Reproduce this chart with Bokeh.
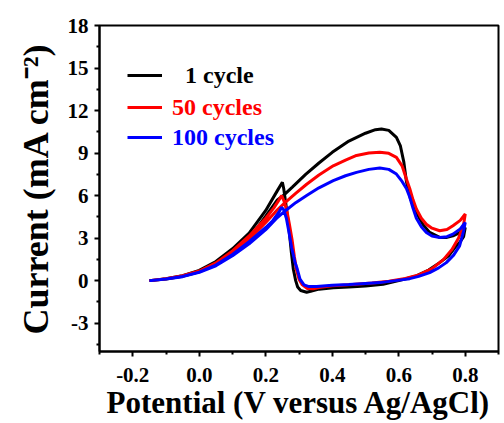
from bokeh.plotting import figure
from bokeh.models import Range1d, FixedTicker, PrintfTickFormatter, Legend, LegendItem
from bokeh.embed import file_html
from bokeh.resources import INLINE

# ---- data ----
x_ticks = [-0.2, 0.0, 0.2, 0.4, 0.6, 0.8]
x_minor = [-0.3, -0.1, 0.1, 0.3, 0.5, 0.7, 0.9]
y_ticks = [-3, 0, 3, 6, 9, 12, 15, 18]
y_minor = [-4.5, -1.5, 1.5, 4.5, 7.5, 10.5, 13.5, 16.5]

series_labels = ["1 cycle", "50 cycles", "100 cycles"]
series_colors = ["#000000", "#ff0000", "#0000ff"]

cycle1_x = [-0.15, -0.10, -0.05, 0.00, 0.05, 0.10, 0.15, 0.20, 0.235, 0.255, 0.28, 0.32, 0.36, 0.40, 0.45,
            0.50, 0.53, 0.548, 0.57, 0.593, 0.605, 0.615, 0.623, 0.635, 0.653, 0.673, 0.693, 0.723, 0.745,
            0.763, 0.785, 0.80,
            0.795, 0.785, 0.773, 0.75, 0.723, 0.69, 0.653, 0.60, 0.553, 0.50, 0.45, 0.403, 0.36, 0.335,
            0.323, 0.305, 0.296, 0.29, 0.283, 0.277, 0.272, 0.266, 0.26, 0.254, 0.25, 0.235, 0.22, 0.20,
            0.15, 0.10, 0.05, 0.00, -0.05, -0.10, -0.145]
cycle1_y = [0.0, 0.12, 0.30, 0.62, 1.15, 1.95, 2.95, 4.55, 5.7, 6.05, 6.6, 7.5, 8.3, 9.05, 9.85,
            10.4, 10.65, 10.7, 10.6, 10.1, 9.5, 8.4, 7.0, 5.8, 4.8, 3.95, 3.4, 3.05, 3.05,
            3.16, 3.4, 3.75,
            3.1, 2.75, 2.45, 1.75, 1.27, 0.75, 0.33, 0.0, -0.26, -0.38, -0.45, -0.5, -0.6, -0.75,
            -0.82, -0.7, -0.45, 0.0, 0.8, 2.0, 3.16, 4.4, 5.5, 6.5, 6.94, 6.35, 5.75, 4.95,
            3.35, 2.25, 1.35, 0.72, 0.35, 0.14, 0.0]

cycle50_x = [-0.15, -0.10, -0.05, 0.00, 0.05, 0.10, 0.15, 0.20, 0.235, 0.258, 0.29, 0.323, 0.36, 0.403,
             0.44, 0.473, 0.51, 0.543, 0.57, 0.593, 0.61, 0.623, 0.633, 0.643, 0.653, 0.668, 0.683, 0.70,
             0.723, 0.745, 0.763, 0.785, 0.80,
             0.795, 0.78, 0.76, 0.735, 0.70, 0.66, 0.62, 0.57, 0.52, 0.46, 0.40, 0.36, 0.343, 0.325,
             0.31, 0.30, 0.293, 0.286, 0.279, 0.271, 0.263, 0.255, 0.248, 0.24, 0.225, 0.20, 0.15, 0.10,
             0.05, 0.00, -0.05, -0.10, -0.145]
cycle50_y = [0.0, 0.13, 0.32, 0.64, 1.15, 1.95, 2.9, 4.1, 5.0, 5.5, 6.15, 6.8, 7.45, 8.1,
             8.5, 8.83, 9.0, 9.06, 8.98, 8.7, 8.1, 7.17, 6.5, 5.7, 5.05, 4.4, 3.98, 3.7,
             3.52, 3.6, 3.87, 4.25, 4.7,
             3.95, 3.0, 2.2, 1.5, 0.85, 0.4, 0.15, -0.05, -0.17, -0.27, -0.37, -0.48, -0.58, -0.55,
             -0.3, 0.1, 0.7, 1.7, 2.9, 4.0, 5.0, 5.6, 6.0, 5.7, 5.15, 4.4, 3.15, 2.1,
             1.25, 0.68, 0.34, 0.14, 0.0]

cycle100_x = [-0.15, -0.10, -0.05, 0.00, 0.05, 0.10, 0.15, 0.20, 0.235, 0.26, 0.29, 0.323, 0.36, 0.403,
              0.44, 0.473, 0.51, 0.543, 0.57, 0.593, 0.61, 0.623, 0.633, 0.643, 0.653, 0.668, 0.683, 0.70,
              0.723, 0.745, 0.763, 0.785, 0.80,
              0.795, 0.783, 0.765, 0.743, 0.72, 0.693, 0.66, 0.633, 0.59, 0.543, 0.50, 0.45, 0.40, 0.353,
              0.33, 0.315, 0.303, 0.295, 0.288, 0.278, 0.27, 0.262, 0.254, 0.248, 0.24, 0.22, 0.20, 0.15,
              0.10, 0.05, 0.00, -0.05, -0.10, -0.145]
cycle100_y = [0.0, 0.11, 0.28, 0.58, 1.05, 1.75, 2.6, 3.6, 4.45, 4.95, 5.5, 6.0, 6.55, 7.05,
              7.4, 7.64, 7.85, 7.95, 7.85, 7.52, 7.0, 6.5, 5.9, 5.1, 4.4, 3.8, 3.4, 3.15,
              3.04, 3.1, 3.28, 3.65, 4.1,
              3.5, 2.45, 1.8, 1.27, 0.9, 0.57, 0.3, 0.14, 0.0, -0.14, -0.2, -0.27, -0.33, -0.42,
              -0.42, -0.3, 0.1, 0.8, 1.3, 2.3, 3.4, 4.4, 5.0, 5.17, 4.85, 4.2, 3.75, 2.75,
              1.85, 1.1, 0.6, 0.3, 0.12, 0.0]

series_x = [cycle1_x, cycle50_x, cycle100_x]
series_y = [cycle1_y, cycle50_y, cycle100_y]

# ---- figure ----
FONT = "Liberation Serif"

p = figure(width=504, height=423, output_backend="svg", toolbar_location=None,
           x_range=Range1d(-0.3, 0.9), y_range=Range1d(-5, 18),
           min_border_left=99, min_border_right=6, min_border_top=25, min_border_bottom=72)
p.background_fill_color = "white"
p.border_fill_color = "white"
p.grid.visible = False
p.outline_line_color = "black"
p.outline_line_width = 2

renderers = []
for xs, ys, c in zip(series_x, series_y, series_colors):
    r = p.line(xs, ys, line_color=c, line_width=3)
    renderers.append(r)

for ax in (p.xaxis[0], p.yaxis[0]):
    ax.axis_line_width = 2
    ax.major_tick_line_width = 2
    ax.minor_tick_line_width = 2
    ax.major_tick_in = 0
    ax.major_tick_out = 5
    ax.minor_tick_in = 0
    ax.minor_tick_out = 3
    ax.major_label_text_font = FONT
    ax.major_label_text_font_style = "bold"
    ax.major_label_text_font_size = "21px"
    ax.major_label_text_color = "black"
    ax.axis_label_text_font = FONT
    ax.axis_label_text_font_style = "bold"
    ax.axis_label_text_color = "black"

p.xaxis[0].ticker = FixedTicker(ticks=x_ticks, minor_ticks=x_minor)
p.xaxis[0].formatter = PrintfTickFormatter(format="%.1f")
p.xaxis[0].axis_label = "Potential (V versus Ag/AgCl)"
p.xaxis[0].axis_label_text_font_size = "31px"
p.xaxis[0].major_label_standoff = 11
p.xaxis[0].axis_label_standoff = 0

p.yaxis[0].ticker = FixedTicker(ticks=y_ticks, minor_ticks=y_minor)
p.yaxis[0].formatter = PrintfTickFormatter(format="%d")
p.yaxis[0].axis_label = "Current (mA cm\u207b\u00b2)"
p.yaxis[0].axis_label_text_font_size = "36px"
p.yaxis[0].major_label_standoff = 6
p.yaxis[0].axis_label_standoff = 9

# one legend per series so each label takes its line colour
line_y_from_bottom = [276, 244, 214]
standoffs = [23, 10, 10]
for r, lab, c, vy, so in zip(renderers, series_labels, series_colors, line_y_from_bottom, standoffs):
    lg = Legend(items=[LegendItem(label=lab, renderers=[r])],
                location=(28, vy - 15), padding=0, margin=0, spacing=0,
                border_line_color=None, background_fill_alpha=0,
                glyph_width=35, glyph_height=30, label_height=30, label_standoff=so,
                label_text_font=FONT, label_text_font_style="bold",
                label_text_font_size="24px", label_text_color=c)
    p.add_layout(lg, "center")

open("out.html", "w").write(file_html(p, INLINE))
